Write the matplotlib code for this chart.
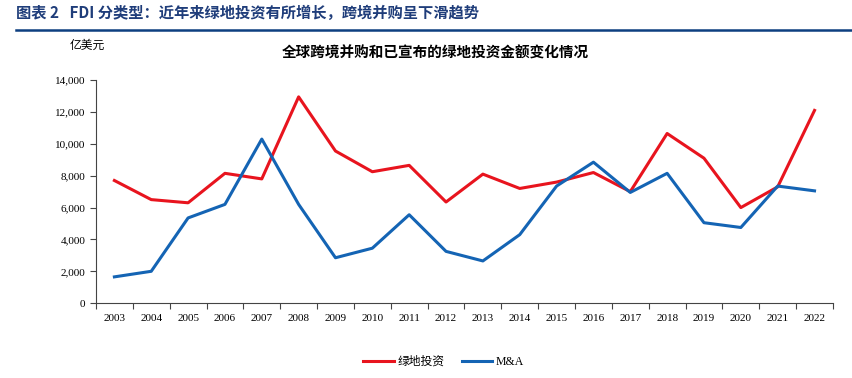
import matplotlib.pyplot as plt
from matplotlib.lines import Line2D

plt.rcParams['font.family'] = ['Liberation Serif', 'Noto Sans CJK SC', 'DejaVu Sans']

years = [str(y) for y in range(2003, 2023)]
greenfield = [7700, 6500, 6300, 8150, 7800, 12950, 9550, 8250, 8650, 6350,
              8100, 7200, 7600, 8200, 7000, 10650, 9100, 6000, 7300, 12100]
mna = [1650, 2000, 5350, 6200, 10300, 6200, 2850, 3450, 5550, 3250,
       2650, 4300, 7350, 8850, 6950, 8150, 5050, 4750, 7350, 7050]
yticks = [0, 2000, 4000, 6000, 8000, 10000, 12000, 14000]

fig = plt.figure(figsize=(8.53, 3.78), dpi=100)

# 顶部标题栏
fig.text(0.019, 0.966, '图表 2   FDI 分类型：近年来绿地投资有所增长，跨境并购呈下滑趋势',
         fontsize=11, fontweight='bold', color='#1f3d7a', va='center',
         family=['Noto Sans CJK SC', 'DejaVu Sans'])
fig.add_artist(Line2D([0.019, 1], [0.920, 0.920], color='#0d3f80', lw=1.8))

ax = fig.add_axes([0.1125, 0.198, 0.864, 0.59])
x = range(len(years))
ax.plot(x, greenfield, color='#e8141e', lw=2.2, label='绿地投资')
ax.plot(x, mna, color='#1464b4', lw=2.2, label='M&A')

ax.set_xlim(-0.5, len(years) - 0.5)
ax.set_ylim(0, 14000)
ax.set_yticks(yticks)
ax.set_yticklabels([f'{v:,}' for v in yticks])
ax.set_xticks([i - 0.5 for i in range(len(years) + 1)], minor=False)
ax.set_xticklabels([])
ax.set_xticks(list(x), minor=True)
ax.set_xticklabels(years, minor=True)
ax.tick_params(axis='x', which='minor', length=0, pad=8, labelsize=8)
ax.tick_params(axis='x', which='major', length=4, direction='out', color='#444444')
ax.tick_params(axis='y', length=4, direction='out', labelsize=8, color='#444444')
for s in ['top', 'right']:
    ax.spines[s].set_visible(False)
ax.spines['left'].set_color('#444444')
ax.spines['bottom'].set_color('#444444')

fig.text(0.51, 0.862, '全球跨境并购和已宣布的绿地投资金额变化情况', ha='center', va='center',
         fontsize=10.5, fontweight='bold', family=['Noto Sans CJK SC', 'DejaVu Sans'])
fig.text(0.102, 0.88, '亿美元', ha='center', va='center', fontsize=8.5,
         family=['Noto Sans CJK SC', 'DejaVu Sans'])

fig.legend(loc='center', bbox_to_anchor=(0.52, 0.042), ncol=2, frameon=False,
           fontsize=8.5, handlelength=2.6, columnspacing=1.5, handletextpad=0.3)

fig.savefig('out.png', dpi=100)
